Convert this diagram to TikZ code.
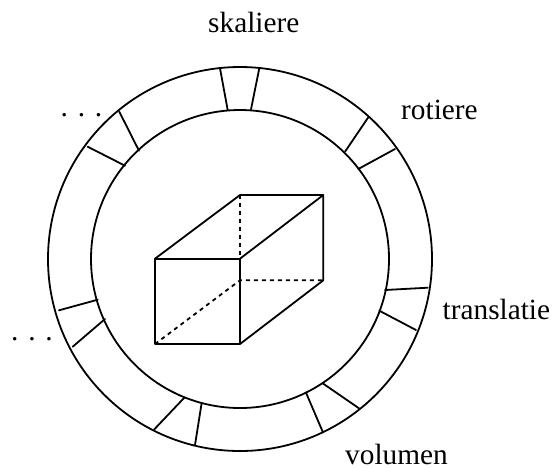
\documentclass[tikz,border=0pt]{standalone}
\usepackage{fontspec}
\setmainfont{Liberation Serif}
\tikzset{
  line/.style={line width=1.8pt,line cap=round,line join=round},
  hidden/.style={line width=1.8pt,dash pattern=on 4pt off 4pt},
  lab/.style={inner sep=0pt,anchor=base west,font=\fontsize{29.3}{32}\selectfont}
}
\begin{document}
\begin{tikzpicture}[x=1pt,y=-1pt]
\useasboundingbox (0,0) rectangle (553,467);
\coordinate (c) at (240,259);
\draw[line] (c) circle[radius=192pt];
\draw[line] (c) circle[radius=149pt];
% ring dividers
\foreach \ax/\ay/\bx/\by in {
 220/68.3/227.7/110, 259.3/68.3/251/109.3,
 368.3/117.3/345/151.7, 395/149/358.3/169,
 119.3/111.7/139/150.7, 87.7/146.7/125/165.7,
 427.7/287.7/385/290, 416/330/379.3/310.7,
 359/408.3/322.7/383.3, 322.7/431.7/306/392.7,
 195/445/201.7/402.7, 154.3/429.3/184.3/397.7,
 72.7/346.7/105/319, 59/310.3/97.7/299.7}
  \draw[line] (\ax,\ay) -- (\bx,\by);
% box
\coordinate (ftl) at (155,258.7);
\coordinate (ftr) at (240,258.7);
\coordinate (fbl) at (155,344);
\coordinate (fbr) at (240,344);
\coordinate (btl) at (240,195);
\coordinate (btr) at (323.3,195);
\coordinate (bbl) at (240,280.3);
\coordinate (bbr) at (323.3,280.3);
\draw[hidden] (btl) -- (ftr);
\draw[hidden] (fbl) -- (bbl) -- (bbr);
\draw[line] (ftl) -- (ftr) -- (fbr) -- (fbl) -- cycle;
\draw[line] (ftl) -- (btl) -- (btr) -- (bbr) -- (fbr);
\draw[line] (ftr) -- (btr);
% labels
\node[lab] (skal) at (208,32) {skaliere};
\node[lab] (rot) at (401,119) {rotiere};
\node[lab] (trans) at (442.5,319) {translatie};
\node[lab] (vol) at (345,464) {volumen};
\node[lab] (dots1) at (60.5,116) {. . .};
\node[lab] (dots2) at (11,340) {. . .};
\end{tikzpicture}
\end{document}
